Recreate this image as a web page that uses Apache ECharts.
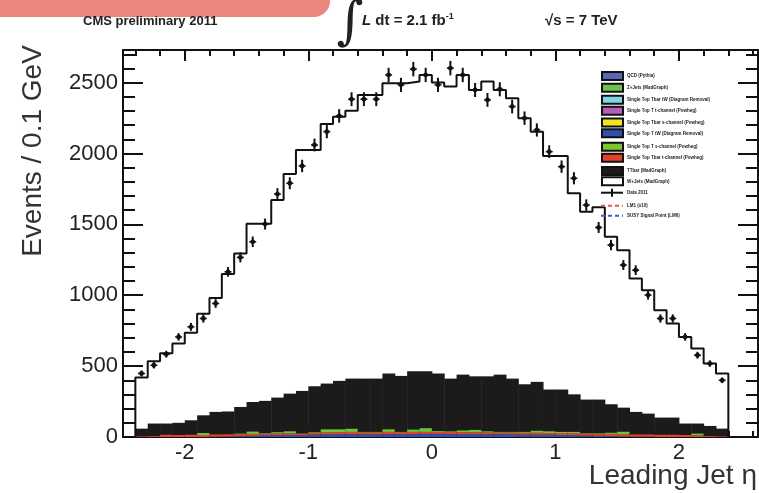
<!DOCTYPE html>
<html><head><meta charset="utf-8">
<script src="https://cdn.jsdelivr.net/npm/echarts@6/dist/echarts.min.js"></script>
<style>html,body{margin:0;padding:0;background:#fff}#c{width:759px;height:493px}</style>
</head><body><div id="c"></div>
<script>
// ---- data (48 bins of 0.1 in leading jet eta, -2.4 .. 2.4) ----
const binStart = -2.4;
const binWidth = 0.1;
const mcTotal = [419,535,590,660,735,870,980,1150,1295,1505,1505,1672,1855,2025,2025,2208,2260,2302,2413,2413,2496,2496,2507,2554,
                 2500,2472,2554,2448,2507,2448,2390,2249,2154,1982,1982,1720,1589,1620,1412,1318,1118,1036,895,801,706,624,518,448];
const dataCounts = [448,506,584,706,777,836,942,1165,1267,1377,1502,1714,1790,1912,2060,2154,2265,2383,2383,2383,2554,2484,2595,2554,
                    2484,2602,2554,2448,2378,2453,2331,2249,2166,2013,1907,1825,1636,1478,1354,1213,1177,1001,836,836,706,577,518,400];
const blackBkg = [59,95,95,100,118,153,177,180,212,247,255,278,306,325,358,377,396,412,412,412,448,431,464,464,
                  448,412,440,428,428,440,412,372,389,335,335,301,264,264,231,207,177,165,137,137,95,95,78,59];
const blueBkg  = [0,0,0,0,0,0,2,3,6,8,14,12,14,12,16,18,20,20,18,18,20,18,20,22,22,20,20,20,18,20,18,16,16,16,14,14,10,8,6,3,2,2,0,0,0,0,0,0];
const redBkg   = [4,6,16,14,16,14,16,16,14,14,12,14,12,10,14,14,14,16,14,14,16,14,16,14,14,16,14,14,14,12,14,14,14,12,14,14,16,14,16,16,16,16,16,16,14,12,6,4];
const greenBkg = [0,0,0,0,0,14,0,0,4,16,2,8,14,2,4,22,20,22,4,4,18,4,16,26,6,4,12,16,8,4,4,6,14,12,8,8,2,4,8,18,0,0,0,0,0,12,0,0];
const xMajorTicks = [-2,-1,0,1,2];
const xMinorTicks = [-2.4,-2.2,-1.8,-1.6,-1.4,-1.2,-0.8,-0.6,-0.4,-0.2,0.2,0.4,0.6,0.8,1.2,1.4,1.6,1.8,2.2,2.4,2.6];
const legendLabels = ['QCD (Pythia)','Z+Jets (MadGraph)','Single Top Tbar tW (Diagram Removal)','Single Top T t-channel (Powheg)',
  'Single Top Tbar s-channel (Powheg)','Single Top T tW (Diagram Removal)','Single Top T s-channel (Powheg)','Single Top Tbar t-channel (Powheg)',
  'TTbar (MadGraph)','W+Jets (MadGraph)','Data 2011','LM1 (x10)','SUSY Signal Point (LM6)'];
const legendColors = ['#5b64b5','#6cc24a','#7fd6e6','#b45cb8','#f3e51c','#2e4fb0','#7dc62c','#e4402a','#1c1a1a','#ffffff'];

// ---- derived tables ----
const lows = mcTotal.map((_, i) => +(binStart + i * binWidth).toFixed(2));
const highs = lows.map(v => +(v + binWidth).toFixed(2));
const centers = lows.map(v => +(v + binWidth / 2).toFixed(3));
const blackData = lows.map((l, i) => [l, highs[i], blackBkg[i]]);
const colorData = lows.map((l, i) => [l, highs[i], blueBkg[i], redBkg[i], greenBkg[i]]);
const stepData = [[lows[0], 0]].concat(lows.map((l, i) => [l, mcTotal[i]]), [[highs[47], mcTotal[47]], [highs[47], 0]]);
const pointData = centers.map((c, i) => [c, dataCounts[i]]);

const chart = echarts.init(document.getElementById('c'), null, {renderer: 'canvas'});
const FONT = 'Liberation Sans, Arial, sans-serif';
const axisCommon = {min: -2.5, max: 2.64, type: 'value', splitLine: {show: false}};
const lineStyle = {color: '#111', width: 2};

// legend graphics
const legendG = [];
const ly = [76, 87.7, 99.7, 110.8, 122.5, 133.3, 146.8, 157.8, 171, 181.3, 192.7, 205.7, 215.7];
for (let i = 0; i < 10; i++) {
  legendG.push({type: 'rect', shape: {x: 602, y: ly[i] - 4, width: 21, height: 8},
    style: {fill: legendColors[i], stroke: '#111', lineWidth: 2}, z: 100});
}
legendG.push({type: 'line', shape: {x1: 601, y1: ly[10], x2: 623, y2: ly[10]}, style: {stroke: '#111', lineWidth: 2}, z: 100});
legendG.push({type: 'line', shape: {x1: 612, y1: ly[10] - 4, x2: 612, y2: ly[10] + 4}, style: {stroke: '#111', lineWidth: 2}, z: 100});
legendG.push({type: 'line', shape: {x1: 601, y1: ly[11], x2: 623, y2: ly[11]}, style: {stroke: '#e05a4a', lineWidth: 2, lineDash: [4, 3]}, z: 100});
legendG.push({type: 'line', shape: {x1: 601, y1: ly[12], x2: 623, y2: ly[12]}, style: {stroke: '#3060c0', lineWidth: 2, lineDash: [4, 3]}, z: 100});
legendLabels.forEach((t, i) => legendG.push({type: 'text', x: 627, y: ly[i],
  style: {text: t, fill: '#222', font: 'bold 4.5px ' + FONT, verticalAlign: 'middle'}, z: 100}));

const option = {
  animation: false,
  backgroundColor: '#fff',
  grid: {left: 123, right: 1, top: 50, bottom: 56},
  xAxis: [
    Object.assign({}, axisCommon, {position: 'bottom', axisLine: {show: true, onZero: false, lineStyle},
      axisTick: {show: true, inside: true, length: 11, lineStyle, customValues: xMajorTicks},
      axisLabel: {show: true, customValues: xMajorTicks, fontFamily: FONT, fontSize: 22, color: '#222', margin: 5}}),
    Object.assign({}, axisCommon, {position: 'bottom', axisLine: {show: false, onZero: false},
      axisTick: {show: true, inside: true, length: 6, lineStyle, customValues: xMinorTicks}, axisLabel: {show: false}}),
    Object.assign({}, axisCommon, {position: 'top', axisLine: {show: true, onZero: false, lineStyle},
      axisTick: {show: true, inside: true, length: 11, lineStyle, customValues: xMajorTicks}, axisLabel: {show: false}}),
    Object.assign({}, axisCommon, {position: 'top', axisLine: {show: false, onZero: false},
      axisTick: {show: true, inside: true, length: 6, lineStyle, customValues: xMinorTicks}, axisLabel: {show: false}})
  ],
  yAxis: [
    {type: 'value', min: 0, max: 2730, interval: 500, position: 'left', splitLine: {show: false},
      axisLine: {show: true, onZero: false, lineStyle}, axisTick: {show: true, inside: true, length: 20, lineStyle},
      minorTick: {show: true, splitNumber: 5, length: 12, lineStyle},
      axisLabel: {fontFamily: FONT, fontSize: 22, color: '#222', margin: 5, showMaxLabel: false, formatter: v => String(v)}},
    {type: 'value', min: 0, max: 2730, interval: 500, position: 'right', splitLine: {show: false},
      axisLine: {show: true, onZero: false, lineStyle}, axisTick: {show: true, inside: true, length: 20, lineStyle},
      minorTick: {show: true, splitNumber: 5, length: 12, lineStyle}, axisLabel: {show: false}}
  ],
  series: [
    {type: 'custom', name: 'black', data: blackData, encode: {x: [0, 1], y: 2}, clip: true, z: 2,
      renderItem: (params, api) => {
        const p0 = api.coord([api.value(0), api.value(2)]);
        const p1 = api.coord([api.value(1), 0]);
        return {type: 'rect', shape: {x: p0[0], y: p0[1], width: p1[0] - p0[0] + 0.5, height: p1[1] - p0[1]},
          style: {fill: '#1c1a1a'}};
      }},
    {type: 'custom', name: 'colored', data: colorData, encode: {x: [0, 1], y: 2}, clip: true, z: 3,
      renderItem: (params, api) => {
        const cols = ['#2e50b0', '#e0442c', '#6cc63c'];
        const children = [];
        let base = 0;
        for (let k = 0; k < 3; k++) {
          const v = api.value(2 + k);
          if (v > 0) {
            const p0 = api.coord([api.value(0), base + v]);
            const p1 = api.coord([api.value(1), base]);
            children.push({type: 'rect', shape: {x: p0[0], y: p0[1], width: p1[0] - p0[0], height: p1[1] - p0[1]},
              style: {fill: cols[k]}});
          }
          base += v;
        }
        return {type: 'group', children};
      }},
    {type: 'line', name: 'MC', data: stepData, step: 'end', showSymbol: false, symbol: 'none',
      lineStyle: {color: '#111', width: 2}, z: 4},
    {type: 'custom', name: 'Data', data: pointData, encode: {x: 0, y: 1}, z: 5,
      renderItem: (params, api) => {
        const v = api.value(1), c = api.value(0);
        const e = Math.sqrt(v);
        const p = api.coord([c, v]);
        const t = api.coord([c, v + e]);
        const b = api.coord([c, v - e]);
        return {type: 'group', children: [
          {type: 'line', shape: {x1: p[0], y1: t[1], x2: p[0], y2: b[1]}, style: {stroke: '#111', lineWidth: 2}},
          {type: 'line', shape: {x1: p[0] - 3.5, y1: p[1], x2: p[0] + 3.5, y2: p[1]}, style: {stroke: '#111', lineWidth: 1.5}},
          {type: 'circle', shape: {cx: p[0], cy: p[1], r: 2.4}, style: {fill: '#111'}}
        ]};
      }}
  ],
  graphic: [
    {type: 'rect', shape: {x: -20, y: -20, width: 350, height: 37, r: [0, 0, 16, 0]}, style: {fill: '#e9877f'}, z: 50},
    {type: 'text', x: 83, y: 21, style: {text: 'CMS preliminary 2011', font: 'bold 13px ' + FONT, fill: '#222', verticalAlign: 'middle'}, z: 50},
    {type: 'text', x: 350, y: 24, style: {text: '∫', font: '52px "DejaVu Serif", serif', fill: '#222', align: 'center', verticalAlign: 'middle'}, z: 50},
    {type: 'text', x: 362, y: 21, style: {text: '{i|L} dt = 2.1 fb{s|-1}', font: 'bold 15px ' + FONT, fill: '#222', verticalAlign: 'middle',
      rich: {i: {font: 'italic bold 15px ' + FONT, fill: '#222'}, s: {font: 'bold 9px ' + FONT, fill: '#222', verticalAlign: 'top', padding: [0, 0, 8, 0]}}}, z: 50},
    {type: 'text', x: 545, y: 21, style: {text: '√s = 7 TeV', font: 'bold 15px ' + FONT, fill: '#222', verticalAlign: 'middle'}, z: 50},
    {type: 'text', x: 33, y: 151, rotation: Math.PI / 2, style: {text: 'Events / 0.1 GeV', font: '28px ' + FONT, fill: '#333', align: 'center', verticalAlign: 'middle'}, z: 50},
    {type: 'text', x: 757, y: 476, style: {text: 'Leading Jet η', font: '28px ' + FONT, fill: '#333', align: 'right', verticalAlign: 'middle'}, z: 50}
  ].concat(legendG)
};
chart.setOption(option);
</script></body></html>
